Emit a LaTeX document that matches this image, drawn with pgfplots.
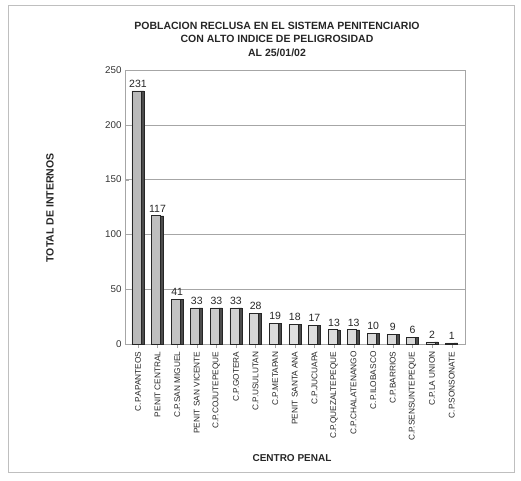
\documentclass[border=0pt]{standalone}
\usepackage{pgfplots}
\pgfplotsset{compat=1.18}
\usepackage{fontspec}
\setmainfont{Liberation Sans}
\pgfplotstableread{
x y
0 231
1 117
2 41
3 33
4 33
5 33
6 28
7 19
8 18
9 17
10 13
11 13
12 10
13 9
14 6
15 2
16 1
}\datatable
\begin{document}
\begin{tikzpicture}
\path[use as bounding box] (0pt,0pt) rectangle (521pt,480pt);
\draw[gray!50, line width=1pt] (8pt,8pt) rectangle (514pt,474pt);
\begin{axis}[
  at={(125pt,136pt)}, anchor=south west,
  scale only axis, width=340pt, height=274pt,
  xmin=-0.66, xmax=16.68, ymin=0, ymax=250,
  ytick={0,50,...,250},
  xtick={0,...,16},
  xticklabels={C.P.APANTEOS,PENIT CENTRAL,C.P.SAN MIGUEL,PENIT SAN VICENTE,C.P.COJUTEPEQUE,C.P.GOTERA,C.P.USULUTAN,C.P.METAPAN,PENIT SANTA ANA,C.P.JUCUAPA,C.P.QUEZALTEPEQUE,C.P.CHALATENANGO,C.P.ILOBASCO,C.P.BARRIOS,C.P.SENSUNTEPEQUE,C.P.LA UNION,C.P.SONSONATE},
  x tick label style={rotate=90, anchor=east, font=\fontsize{8.3}{9}\selectfont, color=black!85},
  y tick label style={font=\fontsize{9.8}{10}\selectfont, color=black!80},
  /pgf/number format/assume math mode=true,
  ymajorgrids, grid style={gray!70, line width=0.6pt},
  axis line style={gray!70},
  tick style={gray!70},
  major tick length=4pt,
  xtick pos=bottom, ytick pos=left,
  ybar,
]
\addplot[draw=black!85, line width=0.5pt, fill=black!70, bar width=3.5pt, bar shift=4.2pt] table[x=x,y=y] {\datatable};
\addplot[draw=black!85, line width=0.6pt, left color=gray!55, right color=gray!35, middle color=gray!25, bar width=9pt, bar shift=-1.5pt,
  nodes near coords, nodes near coords style={font=\fontsize{10.5}{11}\selectfont, color=black!85, xshift=1.5pt}] table[x=x,y=y] {\datatable};
\end{axis}
\node[font=\bfseries\fontsize{10.5}{13.5}\selectfont, align=center, color=black!85] at (277pt,441pt) {POBLACION RECLUSA EN EL SISTEMA PENITENCIARIO\\CON ALTO INDICE DE PELIGROSIDAD\\AL 25/01/02};
\node[font=\bfseries\fontsize{10.5}{12}\selectfont, rotate=90, color=black!85] at (50pt,272pt) {TOTAL DE INTERNOS};
\node[font=\bfseries\fontsize{10}{12}\selectfont, color=black!85] at (292pt,22pt) {CENTRO PENAL};
\end{tikzpicture}
\end{document}
